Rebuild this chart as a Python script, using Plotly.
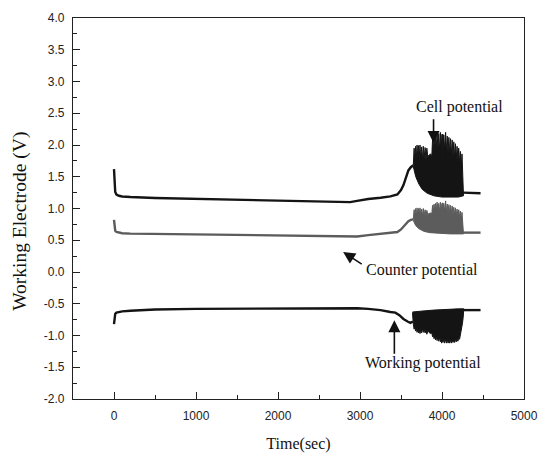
import plotly.graph_objects as go

# ---- data ----
# Cell potential: smooth part
cell_t = [0, 3, 8, 15, 30, 60, 100, 200, 500, 1000, 1500, 2000, 2500, 2880, 2965, 3100, 3250, 3370, 3456, 3500, 3530, 3560, 3590, 3620, 3650]
cell_v = [1.62, 1.45, 1.32, 1.26, 1.22, 1.20, 1.19, 1.18, 1.165, 1.15, 1.13, 1.12, 1.11, 1.10, 1.12, 1.15, 1.17, 1.19, 1.22, 1.29, 1.37, 1.48, 1.60, 1.65, 1.68]
# Cell potential: oscillation band (upper spikes / lower envelope)
cell_up_t = [3650, 3660, 3668, 3678, 3686, 3696, 3704, 3714, 3722, 3732, 3740, 3752, 3760, 3772, 3782, 3794,
             3805, 3815, 3826, 3840, 3860, 3876, 3885, 3893, 3903, 3911, 3921, 3930, 3940, 3950, 3960, 3970,
             3980, 3990, 4000, 4005, 4009, 4014, 4022, 4032, 4044, 4054, 4064, 4074, 4084, 4094, 4104, 4114,
             4124, 4134, 4144, 4154, 4164, 4174, 4184, 4194, 4204, 4214, 4224, 4236, 4244, 4252, 4262]
cell_up_v = [1.68, 1.95, 1.76, 1.98, 1.78, 2.00, 1.80, 1.99, 1.80, 2.00, 1.78, 1.97, 1.77, 1.98, 1.78, 1.96,
             1.76, 1.95, 1.82, 1.84, 1.86, 1.83, 2.10, 1.88, 2.15, 1.90, 2.18, 1.92, 2.20, 1.94, 2.18, 1.92,
             2.20, 1.94, 2.17, 1.45, 2.17, 1.92, 2.16, 1.92, 2.20, 1.90, 2.14, 1.88, 2.12, 1.86, 2.10, 1.84,
             2.08, 1.82, 2.05, 1.80, 2.02, 1.78, 1.98, 1.76, 1.95, 1.74, 1.90, 1.66, 1.86, 1.58, 1.28]
cell_lo_t = [3650, 3680, 3720, 3760, 3820, 3900, 4000, 4100, 4200, 4262]
cell_lo_v = [1.66, 1.50, 1.38, 1.30, 1.24, 1.20, 1.18, 1.18, 1.18, 1.20]
cell_tail_t = [4255, 4300, 4400, 4470]
cell_tail_v = [1.25, 1.25, 1.24, 1.24]

# Counter potential
ctr_t = [0, 3, 8, 15, 30, 60, 100, 200, 500, 1000, 1500, 2000, 2500, 2880, 2965, 3100, 3250, 3370, 3456, 3500, 3540, 3590, 3620, 3650]
ctr_v = [0.82, 0.74, 0.68, 0.65, 0.63, 0.62, 0.61, 0.605, 0.60, 0.59, 0.58, 0.57, 0.565, 0.555, 0.56, 0.58, 0.60, 0.61, 0.63, 0.67, 0.73, 0.80, 0.82, 0.83]
ctr_up_t = [3650, 3660, 3668, 3678, 3686, 3696, 3704, 3714, 3722, 3732, 3740, 3752, 3760, 3772, 3782, 3794,
            3805, 3815, 3826, 3840, 3860, 3876, 3885, 3893, 3903, 3911, 3921, 3930, 3940, 3950, 3960, 3970,
            3980, 3990, 4000, 4005, 4009, 4014, 4022, 4032, 4044, 4054, 4064, 4074, 4084, 4094, 4104, 4114,
            4124, 4134, 4144, 4154, 4164, 4174, 4184, 4194, 4204, 4214, 4224, 4236, 4244, 4252, 4262]
ctr_up_v = [0.83, 0.98, 0.88, 1.00, 0.89, 1.01, 0.90, 1.00, 0.90, 1.01, 0.89, 0.99, 0.88, 1.00, 0.89, 0.98,
            0.88, 0.97, 0.91, 0.92, 0.93, 0.92, 1.05, 0.94, 1.07, 0.95, 1.08, 0.96, 1.10, 0.97, 1.08, 0.96,
            1.10, 0.97, 1.08, 0.75, 1.09, 0.96, 1.08, 0.96, 1.12, 0.95, 1.07, 0.94, 1.06, 0.93, 1.05, 0.92,
            1.04, 0.91, 1.02, 0.90, 1.01, 0.89, 0.99, 0.88, 0.98, 0.87, 0.96, 0.84, 0.94, 0.80, 0.64]
ctr_lo_t = [3650, 3680, 3720, 3780, 3850, 3950, 4100, 4262]
ctr_lo_v = [0.81, 0.73, 0.68, 0.64, 0.62, 0.61, 0.60, 0.60]
ctr_tail_t = [4255, 4300, 4400, 4470]
ctr_tail_v = [0.62, 0.62, 0.62, 0.62]

# Working potential
wrk_t = [0, 3, 8, 15, 30, 60, 100, 200, 500, 1000, 1500, 2000, 2500, 2880, 2965, 3100, 3250, 3370, 3431, 3480, 3530, 3580, 3615, 3645]
wrk_v = [-0.82, -0.74, -0.69, -0.66, -0.64, -0.63, -0.62, -0.61, -0.59, -0.58, -0.575, -0.57, -0.57, -0.57, -0.57, -0.58, -0.60, -0.63, -0.64, -0.68, -0.74, -0.78, -0.80, -0.78]
wrk_lo_t = [3640, 3650, 3660, 3668, 3678, 3686, 3696, 3704, 3714, 3722, 3732, 3740, 3752, 3760, 3772, 3782,
            3794, 3805, 3815, 3826, 3840, 3860, 3876, 3885, 3893, 3903, 3911, 3921, 3930, 3940, 3950, 3960,
            3970, 3980, 3990, 3995, 4000, 4012, 4022, 4032, 4044, 4054, 4064, 4074, 4084, 4094, 4104, 4114,
            4124, 4134, 4144, 4154, 4164, 4174, 4184, 4194, 4204, 4214, 4224, 4236, 4248, 4258, 4266]
wrk_lo_v = [-0.64, -0.82, -0.90, -0.86, -0.93, -0.88, -0.95, -0.89, -0.96, -0.90, -0.97, -0.90, -0.96, -0.89, -0.95, -0.90,
            -0.96, -0.91, -0.98, -0.93, -0.95, -0.97, -0.96, -1.02, -0.98, -1.05, -1.00, -1.07, -1.01, -1.08, -1.02, -1.09,
            -1.03, -1.10, -1.04, -1.12, -1.05, -1.11, -1.05, -1.12, -1.06, -1.12, -1.06, -1.12, -1.07, -1.12, -1.07, -1.12,
            -1.07, -1.11, -1.07, -1.11, -1.06, -1.10, -1.06, -1.09, -1.04, -1.06, -0.98, -0.92, -0.82, -0.72, -0.62]
wrk_hi_t = [3640, 3700, 3800, 3900, 4000, 4100, 4200, 4266]
wrk_hi_v = [-0.63, -0.62, -0.61, -0.60, -0.59, -0.585, -0.58, -0.58]
wrk_tail_t = [4255, 4300, 4400, 4470]
wrk_tail_v = [-0.60, -0.60, -0.60, -0.60]

x_ticks = [0, 1000, 2000, 3000, 4000, 5000]
y_ticks = [4.0, 3.5, 3.0, 2.5, 2.0, 1.5, 1.0, 0.5, 0.0, -0.5, -1.0, -1.5, -2.0]

BLACK = "#141414"
GRAY = "#5c5c5c"

fig = go.Figure()

def line(t, v, color):
    fig.add_trace(go.Scatter(x=t, y=v, mode="lines", line=dict(color=color, width=2.4),
                             showlegend=False, hoverinfo="skip"))

def band(t_a, v_a, t_b, v_b, color):
    xs = list(t_a) + list(t_b)[::-1]
    ys = list(v_a) + list(v_b)[::-1]
    fig.add_trace(go.Scatter(x=xs, y=ys, mode="lines", fill="toself", fillcolor=color,
                             line=dict(color=color, width=1), showlegend=False, hoverinfo="skip"))

line(cell_t, cell_v, BLACK)
band(cell_up_t, cell_up_v, cell_lo_t, cell_lo_v, BLACK)
line(cell_tail_t, cell_tail_v, BLACK)

line(ctr_t, ctr_v, GRAY)
band(ctr_up_t, ctr_up_v, ctr_lo_t, ctr_lo_v, GRAY)
line(ctr_tail_t, ctr_tail_v, GRAY)

line(wrk_t, wrk_v, BLACK)
band(wrk_hi_t, wrk_hi_v, wrk_lo_t, wrk_lo_v, BLACK)
line(wrk_tail_t, wrk_tail_v, BLACK)

serif = "Liberation Serif, Times New Roman, serif"
sans = "Liberation Sans, Arial, sans-serif"

def arrow(x0, y0, x1, y1):
    fig.add_annotation(x=x1, y=y1, ax=x0, ay=y0, xref="x", yref="y", axref="x", ayref="y",
                       showarrow=True, arrowhead=2, arrowsize=1.5, arrowwidth=1.6,
                       arrowcolor="#111111", text="")

arrow(3897, 2.43, 3897, 2.03)
arrow(3039, 0.11, 2794, 0.315)
arrow(3419, -1.31, 3419, -0.76)

def label(x, y, s):
    fig.add_annotation(x=x, y=y, xref="x", yref="y", text=s, showarrow=False,
                       font=dict(family=serif, size=16, color="#111111"), xanchor="center", yanchor="middle")

label(4215, 2.60, "Cell potential")
label(3750, 0.03, "Counter potential")
label(3774, -1.43, "Working potential")

# y-axis title (placed as rotated text, slightly below the axis centre as in the reference)
fig.add_annotation(x=-0.1175, y=0.465, xref="paper", yref="paper", text="Working Electrode (V)",
                   showarrow=False, textangle=-90, xanchor="center", yanchor="middle",
                   font=dict(family=serif, size=19.5, color="#111111"))

fig.update_layout(
    width=548, height=455,
    margin=dict(l=73, r=24, t=18, b=56),
    paper_bgcolor="white", plot_bgcolor="white",
    showlegend=False,
    font=dict(family=sans, size=12, color="#111111"),
)
fig.update_xaxes(
    range=[-500, 5000], tickvals=x_ticks, ticktext=[str(v) for v in x_ticks],
    ticks="inside", ticklen=7, tickwidth=1, tickcolor="#222", ticklabelstandoff=5,
    minor=dict(dtick=500, tick0=0, ticks="inside", ticklen=4, tickcolor="#222"),
    showline=True, linecolor="#222", linewidth=1.2, mirror=True,
    showgrid=False, zeroline=False, automargin=False,
    tickfont=dict(family=sans, size=12, color="#222"),
    title=dict(text="Time(sec)", font=dict(family=serif, size=16, color="#111"), standoff=16),
)
fig.update_yaxes(
    range=[-2.0, 4.0], tickvals=y_ticks, ticktext=[f"{v:.1f}" for v in y_ticks],
    ticks="inside", ticklen=7, tickwidth=1, tickcolor="#222", ticklabelstandoff=5,
    minor=dict(dtick=0.25, tick0=0, ticks="inside", ticklen=4, tickcolor="#222"),
    showline=True, linecolor="#222", linewidth=1.2, mirror=True,
    showgrid=False, zeroline=False, automargin=False,
    tickfont=dict(family=sans, size=12, color="#222"),
)

fig.write_html("out.html")
